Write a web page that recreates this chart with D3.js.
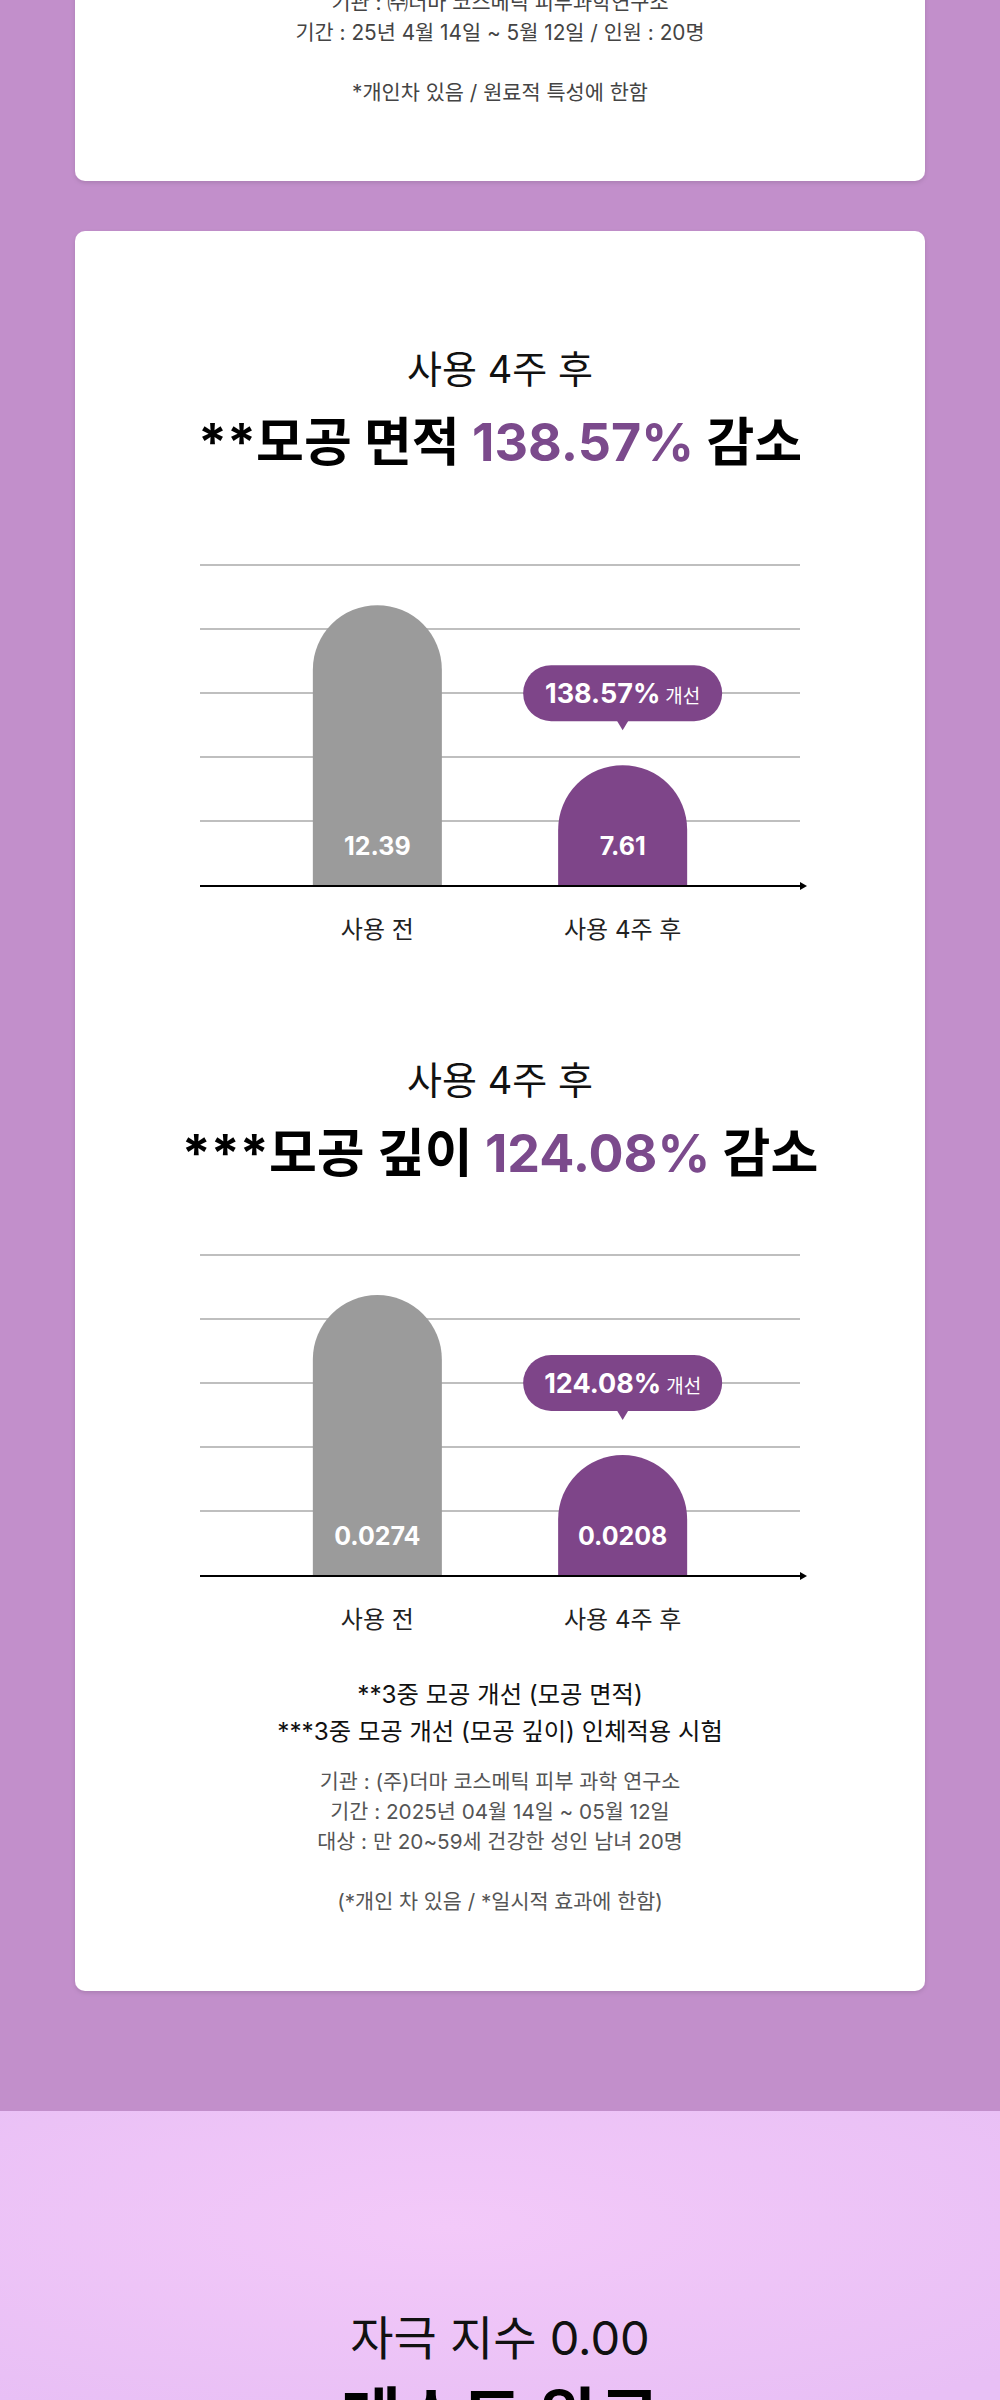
<!DOCTYPE html>
<html>
<head>
<meta charset="utf-8">
<script src="https://cdn.jsdelivr.net/npm/d3@7"></script>
<style>
  body { margin: 0; background: #c28fcb; }
  svg { display: block; }
  text { font-family: Inter, "Noto Sans CJK KR", sans-serif; }
</style>
</head>
<body>
<div id="page"></div>
<script>
var svgWidth = 1000;
var svgHeight = 2400;

// data
var categories = ['사용 전', '사용 4주 후'];
var poreAreaValues = [12.39, 7.61];
var poreDepthValues = [0.0274, 0.0208];
var valueLabels = [['12.39', '7.61'], ['0.0274', '0.0208']];
var improvements = ['138.57%', '124.08%'];
var chartNames = ['**모공 면적 ', '***모공 깊이 '];
// the design does not start bars at zero, so each chart has its own visible window
var yDomains = [[4.03, 13.59], [0.01585, 0.02905]];

var topNotes = ['기관 : ㈜더마 코스메틱 피부과학연구소',
                '기간 : 25년 4월 14일 ~ 5월 12일 / 인원 : 20명',
                '',
                '*개인차 있음 / 원료적 특성에 한함'];
var testNotes = ['**3중 모공 개선 (모공 면적)',
                 '***3중 모공 개선 (모공 깊이) 인체적용 시험'];
var labNotes = ['기관 : (주)더마 코스메틱 피부 과학 연구소',
                '기간 : 2025년 04월 14일 ~ 05월 12일',
                '대상 : 만 20~59세 건강한 성인 남녀 20명',
                '',
                '(*개인 차 있음 / *일시적 효과에 한함)'];

var purple = '#7e4589';
var gray = '#9b9b9b';

var svg = d3.select('#page')
    .append('svg')
    .attr('width', svgWidth)
    .attr('height', svgHeight);

var defs = svg.append('defs');
var grad = defs.append('radialGradient')
    .attr('id', 'lav')
    .attr('cx', '45%').attr('cy', '40%').attr('r', '75%');
grad.append('stop').attr('offset', '0%').attr('stop-color', '#f3c9f9');
grad.append('stop').attr('offset', '100%').attr('stop-color', '#e8bff5');

var shadow = defs.append('filter').attr('id', 'shadow')
    .attr('x', '-5%').attr('y', '-5%').attr('width', '110%').attr('height', '110%');
shadow.append('feDropShadow')
    .attr('dx', 0).attr('dy', 2).attr('stdDeviation', 2)
    .attr('flood-color', '#000').attr('flood-opacity', 0.12);

// background
svg.append('rect').attr('width', svgWidth).attr('height', svgHeight).attr('fill', '#c28fcb');
svg.append('rect').attr('y', 2111).attr('width', svgWidth).attr('height', svgHeight - 2111)
    .attr('fill', 'url(#lav)');

// cards
svg.append('rect')
    .attr('x', 75).attr('y', -40).attr('width', 850).attr('height', 221)
    .attr('rx', 10).attr('fill', '#fff').attr('filter', 'url(#shadow)');
svg.append('rect')
    .attr('x', 75).attr('y', 231).attr('width', 850).attr('height', 1760)
    .attr('rx', 10).attr('fill', '#fff').attr('filter', 'url(#shadow)');

// notes of the card above
svg.append('g').selectAll('text')
    .data(topNotes)
    .enter()
    .append('text')
    .attr('x', 500)
    .attr('y', (d, i) => 10 + 30 * i)
    .attr('text-anchor', 'middle')
    .attr('font-size', 20.8)
    .attr('fill', '#444')
    .text(d => d);

var x = d3.scaleBand()
    .domain(categories)
    .range([200, 800])
    .paddingInner(0.474)
    .paddingOuter(0.46);

function barPath(x0, w, yTop, yBase) {
    var r = w / 2;
    return `M${x0},${yBase} V${yTop + r} A${r},${r} 0 0 1 ${x0 + w},${yTop + r} V${yBase} Z`;
}

function drawChart(k, values, titleTop, chartTop) {
    var g = svg.append('g');
    var axisY = chartTop + 320;

    g.append('text')
        .attr('x', 500).attr('y', titleTop)
        .attr('text-anchor', 'middle')
        .attr('font-size', 38)
        .attr('fill', '#111')
        .text('사용 4주 후');

    var title = g.append('text')
        .attr('x', 500).attr('y', titleTop + 78)
        .attr('text-anchor', 'middle')
        .attr('font-size', 52)
        .attr('font-weight', 700)
        .attr('fill', '#000');
    title.append('tspan').text(chartNames[k]);
    title.append('tspan').attr('fill', '#7b4a8c').text(improvements[k]);
    title.append('tspan').text(' 감소');

    var y = d3.scaleLinear()
        .domain(yDomains[k])
        .range([axisY, chartTop]);

    // grid lines: five evenly spaced over the window
    var grid = d3.scaleLinear().domain([0, 5]).range([axisY, chartTop]);
    g.selectAll('.grid')
        .data([1, 2, 3, 4, 5])
        .enter()
        .append('line')
        .attr('class', 'grid')
        .attr('x1', 200).attr('x2', 800)
        .attr('y1', d => grid(d)).attr('y2', d => grid(d))
        .attr('stroke', '#aaaaaa')
        .attr('stroke-width', 1.3);

    g.selectAll('.bar')
        .data(values)
        .enter()
        .append('path')
        .attr('class', 'bar')
        .attr('d', (d, i) => barPath(x(categories[i]), x.bandwidth(), y(d), axisY))
        .attr('fill', (d, i) => i === 0 ? gray : purple);

    g.selectAll('.val')
        .data(values)
        .enter()
        .append('text')
        .attr('class', 'val')
        .attr('x', (d, i) => x(categories[i]) + x.bandwidth() / 2)
        .attr('y', axisY - 30)
        .attr('text-anchor', 'middle')
        .attr('font-size', 25)
        .attr('font-weight', 700)
        .attr('fill', '#fff')
        .text((d, i) => valueLabels[k][i]);

    // axis with arrow
    g.append('line')
        .attr('x1', 200).attr('x2', 802)
        .attr('y1', axisY + 1).attr('y2', axisY + 1)
        .attr('stroke', '#000').attr('stroke-width', 2.2);
    g.append('path')
        .attr('d', `M800,${axisY - 3} L807,${axisY + 1} L800,${axisY + 5} Z`)
        .attr('fill', '#000');

    g.selectAll('.cat')
        .data(categories)
        .enter()
        .append('text')
        .attr('class', 'cat')
        .attr('x', d => x(d) + x.bandwidth() / 2)
        .attr('y', axisY + 53)
        .attr('text-anchor', 'middle')
        .attr('font-size', 24)
        .attr('fill', '#222')
        .text(d => d);

    // speech bubble over the after bar
    var cx = x(categories[1]) + x.bandwidth() / 2;
    var bBottom = y(values[1]) - 44;
    var bw = 199, bh = 56;
    var bubble = g.append('g');
    bubble.append('rect')
        .attr('x', cx - bw / 2).attr('y', bBottom - bh)
        .attr('width', bw).attr('height', bh)
        .attr('rx', bh / 2)
        .attr('fill', purple);
    bubble.append('path')
        .attr('d', `M${cx - 6},${bBottom - 1} L${cx},${bBottom + 9} L${cx + 6},${bBottom - 1} Z`)
        .attr('fill', purple);
    var bt = bubble.append('text')
        .attr('x', cx).attr('y', bBottom - bh / 2 + 9.5)
        .attr('text-anchor', 'middle')
        .attr('fill', '#fff');
    bt.append('tspan').attr('font-size', 27).attr('font-weight', 700).text(improvements[k]);
    bt.append('tspan').attr('font-size', 19).attr('dx', 5).text('개선');
}

drawChart(0, poreAreaValues, 383, 565);
drawChart(1, poreDepthValues, 1094, 1255);

svg.append('g').selectAll('text')
    .data(testNotes)
    .enter()
    .append('text')
    .attr('x', 500)
    .attr('y', (d, i) => 1703 + 37 * i)
    .attr('text-anchor', 'middle')
    .attr('font-size', 24.3)
    .attr('fill', '#111')
    .text(d => d);

svg.append('g').selectAll('text')
    .data(labNotes)
    .enter()
    .append('text')
    .attr('x', 500)
    .attr('y', (d, i) => 1789 + 30 * i)
    .attr('text-anchor', 'middle')
    .attr('font-size', 20.7)
    .attr('fill', '#555')
    .text(d => d);

// next section header
svg.append('text')
    .attr('x', 500).attr('y', 2355)
    .attr('text-anchor', 'middle')
    .attr('font-size', 47)
    .attr('fill', '#111')
    .text('자극 지수 0.00');
svg.append('text')
    .attr('x', 500).attr('y', 2442)
    .attr('text-anchor', 'middle')
    .attr('font-size', 66)
    .attr('font-weight', 700)
    .attr('fill', '#000')
    .text('테스트 완료');
</script>
</body>
</html>
